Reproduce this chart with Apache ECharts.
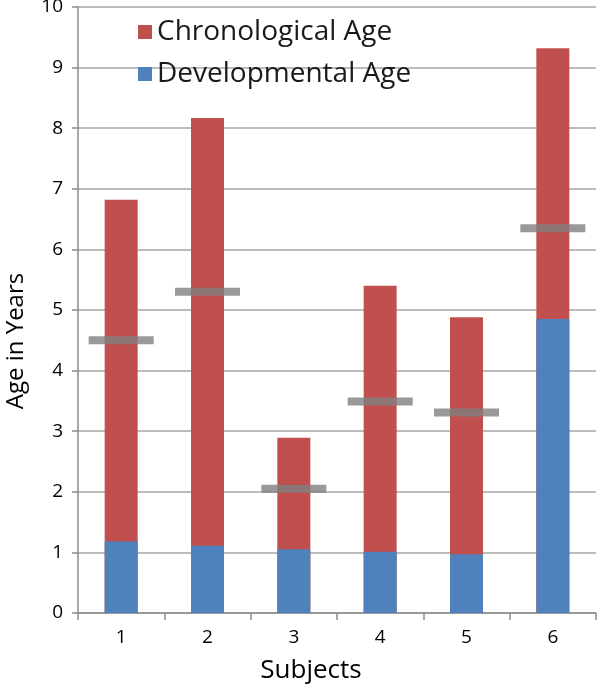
<!DOCTYPE html>
<html><head><meta charset="utf-8">
<script src="https://cdn.jsdelivr.net/npm/echarts@6/dist/echarts.min.js"></script>
<style>html,body{margin:0;padding:0;background:#fff}#c{width:600px;height:689px}</style>
</head><body><div id="c"></div>
<script>
const subjects = ['1','2','3','4','5','6'];
const chronologicalAge = [6.82, 8.17, 2.89, 5.40, 4.88, 9.32];
const developmentalAge = [1.18, 1.11, 1.05, 1.01, 0.97, 4.85];
const markerValues = [4.50, 5.30, 2.05, 3.49, 3.31, 6.35];
const yTicks = [0,1,2,3,4,5,6,7,8,9,10];

const FONT = '"Open Sans", "Noto Sans", sans-serif';
const chart = echarts.init(document.getElementById('c'));
chart.setOption({
  animation: false,
  textStyle: {fontFamily: FONT},
  grid: {left: 78, right: 4, top: 7, bottom: 76, outerBoundsMode: 'none', containLabel: false},
  legend: {
    orient: 'vertical', left: 133, top: 13, itemGap: 14,
    icon: 'rect', itemWidth: 14, itemHeight: 14,
    data: ['Chronological Age', 'Developmental Age'],
    textStyle: {fontSize: 28, color: '#1a1a1a', fontFamily: FONT}
  },
  xAxis: {
    type: 'category', data: subjects,
    name: 'Subjects', nameLocation: 'middle', nameGap: 45,
    nameTextStyle: {fontSize: 26, color: '#000', padding: [0, 52, 0, 0]},
    axisLine: {lineStyle: {color: '#8c8c8c', width: 1.5}},
    axisTick: {show: true, length: 7, lineStyle: {color: '#8c8c8c', width: 1.5}},
    axisLabel: {fontSize: 19, color: '#000', margin: 15}
  },
  yAxis: {
    type: 'value', min: 0, max: 10, interval: 1,
    name: 'Age in Years', nameLocation: 'middle', nameGap: 50, nameRotate: 90,
    nameTextStyle: {fontSize: 24, color: '#000', padding: [0, 62, 0, 0]},
    axisLine: {show: true, lineStyle: {color: '#8c8c8c', width: 1.5}},
    axisTick: {show: true, length: 6, lineStyle: {color: '#8c8c8c', width: 1.5}},
    axisLabel: {fontSize: 19, color: '#000', margin: 15,
      formatter: v => yTicks.includes(v) ? String(v) : ''},
    splitLine: {lineStyle: {color: '#a6a6a6', width: 1.5}}
  },
  series: [
    {name: 'Chronological Age', type: 'bar', data: chronologicalAge, barWidth: 33,
     itemStyle: {color: '#C0504D'}},
    {name: 'Developmental Age', type: 'bar', data: developmentalAge, barWidth: 33, barGap: '-100%',
     itemStyle: {color: '#4F81BD'}},
    {name: 'marker', type: 'scatter', data: markerValues, symbol: 'rect', symbolSize: [65, 8],
     itemStyle: {color: '#808080'}, z: 5}
  ]
});
</script></body></html>
